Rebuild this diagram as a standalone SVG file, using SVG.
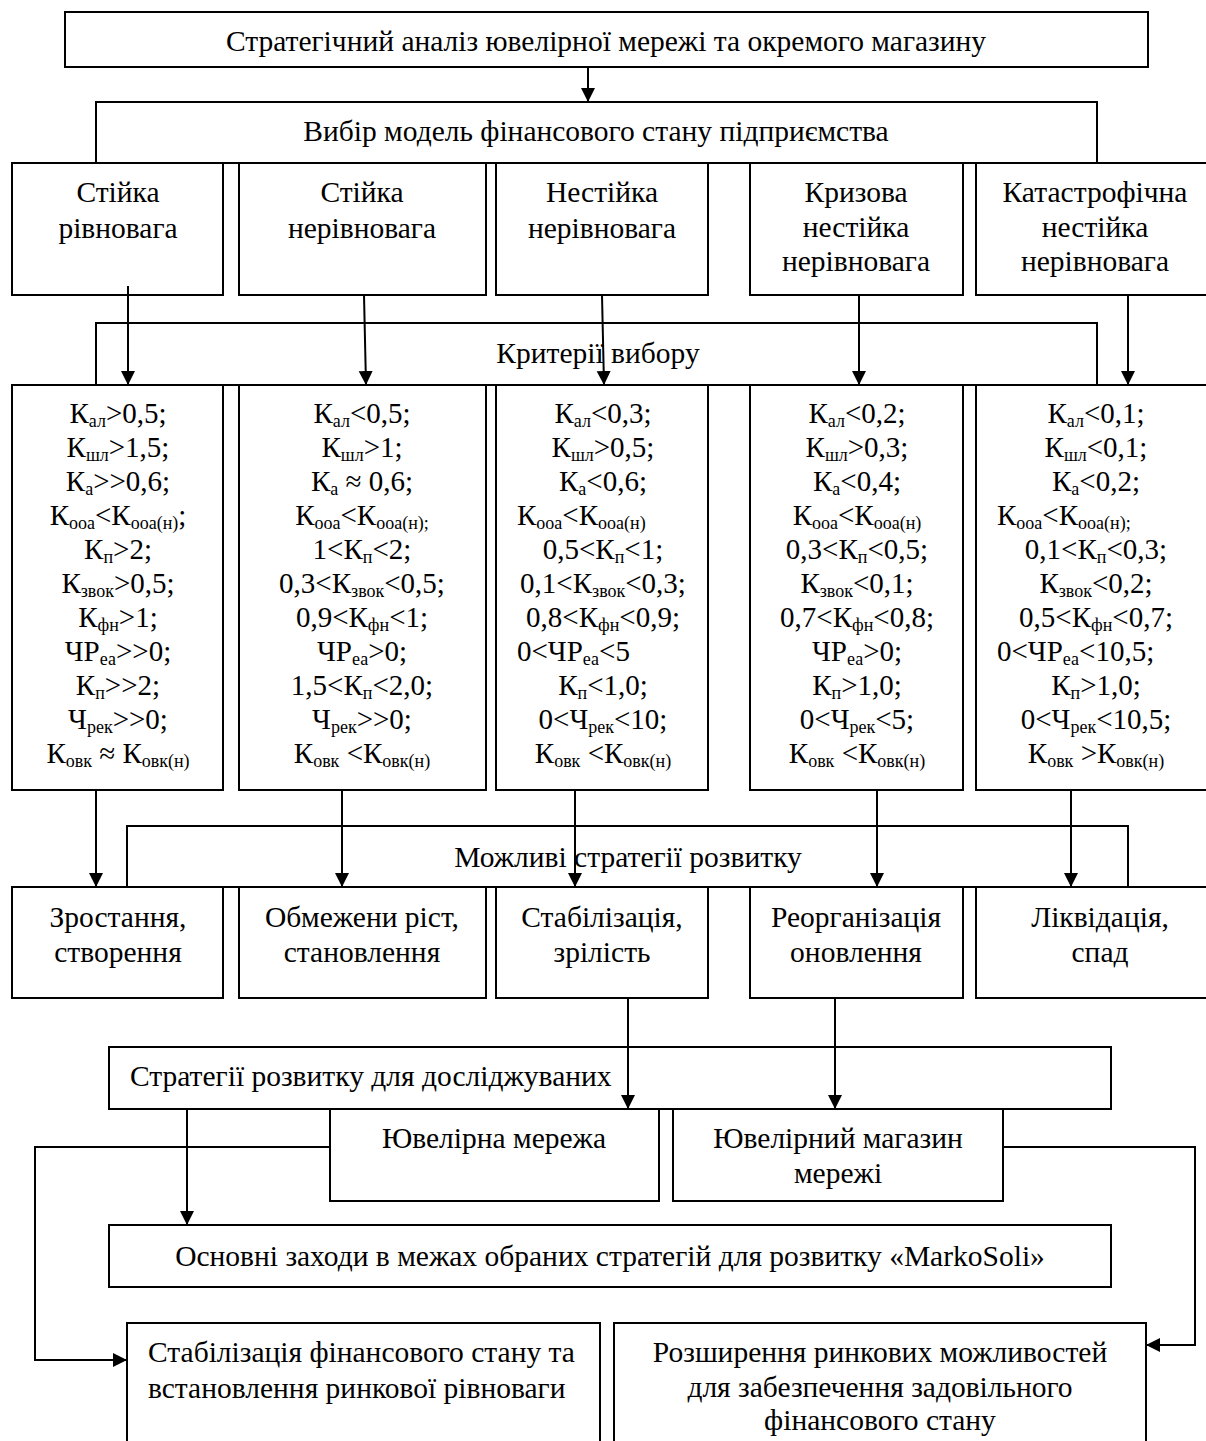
<svg xmlns="http://www.w3.org/2000/svg" width="1206" height="1441" viewBox="0 0 1206 1441">
<defs>
<marker id="ah" markerUnits="userSpaceOnUse" markerWidth="14" markerHeight="16" refX="14" refY="7" orient="auto">
<path d="M0,0 L14,7 L0,14 Z" fill="#000"/>
</marker>
<style>
rect{fill:#fff;stroke:#000;stroke-width:2}
text{font-family:"Liberation Serif","Times New Roman",serif;font-size:29.5px;fill:#000}
.m{text-anchor:middle}
.k text{font-size:29px}
.k .s{font-size:18px}
.ar{fill:none;stroke:#000;stroke-width:2;marker-end:url(#ah)}
</style>
</defs>
<rect width="1206" height="1441" style="stroke:none"/>

<g id="n-top"><rect x="65" y="12" width="1083" height="55"/><text class="m" x="606" y="51">Стратегічний аналіз ювелірної мережі та окремого магазину</text></g>
<g id="n-model"><rect x="96" y="102" width="1001" height="61"/><text class="m" x="596" y="141">Вибір модель фінансового стану підприємства</text></g>

<g id="n-s1"><rect x="12" y="163" width="211" height="132"/><text class="m" x="118" y="202">Стійка</text><text class="m" x="118" y="238">рівновага</text></g>
<g id="n-s2"><rect x="239" y="163" width="247" height="132"/><text class="m" x="362" y="202">Стійка</text><text class="m" x="362" y="238">нерівновага</text></g>
<g id="n-s3"><rect x="496" y="163" width="212" height="132"/><text class="m" x="602" y="202">Нестійка</text><text class="m" x="602" y="238">нерівновага</text></g>
<g id="n-s4"><rect x="750" y="163" width="213" height="132"/><text class="m" x="856" y="202">Кризова</text><text class="m" x="856" y="237">нестійка</text><text class="m" x="856" y="271">нерівновага</text></g>
<g id="n-s5"><rect x="976" y="163" width="240" height="132"/><text class="m" x="1095" y="202">Катастрофічна</text><text class="m" x="1095" y="237">нестійка</text><text class="m" x="1095" y="271">нерівновага</text></g>

<g id="n-crit"><rect x="96" y="323" width="1001" height="62"/><text class="m" x="598" y="363">Критерії вибору</text></g>

<g id="n-c1" class="k"><rect x="12" y="385" width="211" height="405"/>
<text class="m" x="118" y="423">К<tspan class="s" dy="4">ал</tspan><tspan dy="-4">&gt;0,5;</tspan></text>
<text class="m" x="118" y="457">К<tspan class="s" dy="4">шл</tspan><tspan dy="-4">&gt;1,5;</tspan></text>
<text class="m" x="118" y="491">К<tspan class="s" dy="4">а</tspan><tspan dy="-4">&gt;&gt;0,6;</tspan></text>
<text class="m" x="118" y="525">К<tspan class="s" dy="4">ооа</tspan><tspan dy="-4">&lt;К</tspan><tspan class="s" dy="4">ооа(н)</tspan><tspan dy="-4">;</tspan></text>
<text class="m" x="118" y="559">К<tspan class="s" dy="4">п</tspan><tspan dy="-4">&gt;2;</tspan></text>
<text class="m" x="118" y="593">К<tspan class="s" dy="4">звок</tspan><tspan dy="-4">&gt;0,5;</tspan></text>
<text class="m" x="118" y="627">К<tspan class="s" dy="4">фн</tspan><tspan dy="-4">&gt;1;</tspan></text>
<text class="m" x="118" y="661">ЧР<tspan class="s" dy="4">еа</tspan><tspan dy="-4">&gt;&gt;0;</tspan></text>
<text class="m" x="118" y="695">К<tspan class="s" dy="4">п</tspan><tspan dy="-4">&gt;&gt;2;</tspan></text>
<text class="m" x="118" y="729">Ч<tspan class="s" dy="4">рек</tspan><tspan dy="-4">&gt;&gt;0;</tspan></text>
<text class="m" x="118" y="763">К<tspan class="s" dy="4">овк</tspan><tspan dy="-4"> ≈ К</tspan><tspan class="s" dy="4">овк(н)</tspan></text>
</g>

<g id="n-c2" class="k"><rect x="239" y="385" width="247" height="405"/>
<text class="m" x="362" y="423">К<tspan class="s" dy="4">ал</tspan><tspan dy="-4">&lt;0,5;</tspan></text>
<text class="m" x="362" y="457">К<tspan class="s" dy="4">шл</tspan><tspan dy="-4">&gt;1;</tspan></text>
<text class="m" x="362" y="491">К<tspan class="s" dy="4">а</tspan><tspan dy="-4"> ≈ 0,6;</tspan></text>
<text class="m" x="362" y="525">К<tspan class="s" dy="4">ооа</tspan><tspan dy="-4">&lt;К</tspan><tspan class="s" dy="4">ооа(н);</tspan></text>
<text class="m" x="362" y="559">1&lt;К<tspan class="s" dy="4">п</tspan><tspan dy="-4">&lt;2;</tspan></text>
<text class="m" x="362" y="593">0,3&lt;К<tspan class="s" dy="4">звок</tspan><tspan dy="-4">&lt;0,5;</tspan></text>
<text class="m" x="362" y="627">0,9&lt;К<tspan class="s" dy="4">фн</tspan><tspan dy="-4">&lt;1;</tspan></text>
<text class="m" x="362" y="661">ЧР<tspan class="s" dy="4">еа</tspan><tspan dy="-4">&gt;0;</tspan></text>
<text class="m" x="362" y="695">1,5&lt;К<tspan class="s" dy="4">п</tspan><tspan dy="-4">&lt;2,0;</tspan></text>
<text class="m" x="362" y="729">Ч<tspan class="s" dy="4">рек</tspan><tspan dy="-4">&gt;&gt;0;</tspan></text>
<text class="m" x="362" y="763">К<tspan class="s" dy="4">овк</tspan><tspan dy="-4"> &lt;К</tspan><tspan class="s" dy="4">овк(н)</tspan></text>
</g>

<g id="n-c3" class="k"><rect x="496" y="385" width="212" height="405"/>
<text class="m" x="603" y="423">К<tspan class="s" dy="4">ал</tspan><tspan dy="-4">&lt;0,3;</tspan></text>
<text class="m" x="603" y="457">К<tspan class="s" dy="4">шл</tspan><tspan dy="-4">&gt;0,5;</tspan></text>
<text class="m" x="603" y="491">К<tspan class="s" dy="4">а</tspan><tspan dy="-4">&lt;0,6;</tspan></text>
<text x="517" y="525">К<tspan class="s" dy="4">ооа</tspan><tspan dy="-4">&lt;К</tspan><tspan class="s" dy="4">ооа(н)</tspan></text>
<text class="m" x="603" y="559">0,5&lt;К<tspan class="s" dy="4">п</tspan><tspan dy="-4">&lt;1;</tspan></text>
<text class="m" x="603" y="593">0,1&lt;К<tspan class="s" dy="4">звок</tspan><tspan dy="-4">&lt;0,3;</tspan></text>
<text class="m" x="603" y="627">0,8&lt;К<tspan class="s" dy="4">фн</tspan><tspan dy="-4">&lt;0,9;</tspan></text>
<text x="517" y="661">0&lt;ЧР<tspan class="s" dy="4">еа</tspan><tspan dy="-4">&lt;5</tspan></text>
<text class="m" x="603" y="695">К<tspan class="s" dy="4">п</tspan><tspan dy="-4">&lt;1,0;</tspan></text>
<text class="m" x="603" y="729">0&lt;Ч<tspan class="s" dy="4">рек</tspan><tspan dy="-4">&lt;10;</tspan></text>
<text class="m" x="603" y="763">К<tspan class="s" dy="4">овк</tspan><tspan dy="-4"> &lt;К</tspan><tspan class="s" dy="4">овк(н)</tspan></text>
</g>

<g id="n-c4" class="k"><rect x="750" y="385" width="213" height="405"/>
<text class="m" x="857" y="423">К<tspan class="s" dy="4">ал</tspan><tspan dy="-4">&lt;0,2;</tspan></text>
<text class="m" x="857" y="457">К<tspan class="s" dy="4">шл</tspan><tspan dy="-4">&gt;0,3;</tspan></text>
<text class="m" x="857" y="491">К<tspan class="s" dy="4">а</tspan><tspan dy="-4">&lt;0,4;</tspan></text>
<text class="m" x="857" y="525">К<tspan class="s" dy="4">ооа</tspan><tspan dy="-4">&lt;К</tspan><tspan class="s" dy="4">ооа(н)</tspan></text>
<text class="m" x="857" y="559">0,3&lt;К<tspan class="s" dy="4">п</tspan><tspan dy="-4">&lt;0,5;</tspan></text>
<text class="m" x="857" y="593">К<tspan class="s" dy="4">звок</tspan><tspan dy="-4">&lt;0,1;</tspan></text>
<text class="m" x="857" y="627">0,7&lt;К<tspan class="s" dy="4">фн</tspan><tspan dy="-4">&lt;0,8;</tspan></text>
<text class="m" x="857" y="661">ЧР<tspan class="s" dy="4">еа</tspan><tspan dy="-4">&gt;0;</tspan></text>
<text class="m" x="857" y="695">К<tspan class="s" dy="4">п</tspan><tspan dy="-4">&gt;1,0;</tspan></text>
<text class="m" x="857" y="729">0&lt;Ч<tspan class="s" dy="4">рек</tspan><tspan dy="-4">&lt;5;</tspan></text>
<text class="m" x="857" y="763">К<tspan class="s" dy="4">овк</tspan><tspan dy="-4"> &lt;К</tspan><tspan class="s" dy="4">овк(н)</tspan></text>
</g>

<g id="n-c5" class="k"><rect x="976" y="385" width="240" height="405"/>
<text class="m" x="1096" y="423">К<tspan class="s" dy="4">ал</tspan><tspan dy="-4">&lt;0,1;</tspan></text>
<text class="m" x="1096" y="457">К<tspan class="s" dy="4">шл</tspan><tspan dy="-4">&lt;0,1;</tspan></text>
<text class="m" x="1096" y="491">К<tspan class="s" dy="4">а</tspan><tspan dy="-4">&lt;0,2;</tspan></text>
<text x="997" y="525">К<tspan class="s" dy="4">ооа</tspan><tspan dy="-4">&lt;К</tspan><tspan class="s" dy="4">ооа(н);</tspan></text>
<text class="m" x="1096" y="559">0,1&lt;К<tspan class="s" dy="4">п</tspan><tspan dy="-4">&lt;0,3;</tspan></text>
<text class="m" x="1096" y="593">К<tspan class="s" dy="4">звок</tspan><tspan dy="-4">&lt;0,2;</tspan></text>
<text class="m" x="1096" y="627">0,5&lt;К<tspan class="s" dy="4">фн</tspan><tspan dy="-4">&lt;0,7;</tspan></text>
<text x="997" y="661">0&lt;ЧР<tspan class="s" dy="4">еа</tspan><tspan dy="-4">&lt;10,5;</tspan></text>
<text class="m" x="1096" y="695">К<tspan class="s" dy="4">п</tspan><tspan dy="-4">&gt;1,0;</tspan></text>
<text class="m" x="1096" y="729">0&lt;Ч<tspan class="s" dy="4">рек</tspan><tspan dy="-4">&lt;10,5;</tspan></text>
<text class="m" x="1096" y="763">К<tspan class="s" dy="4">овк</tspan><tspan dy="-4"> &gt;К</tspan><tspan class="s" dy="4">овк(н)</tspan></text>
</g>

<g id="n-strat"><rect x="127" y="826" width="1001" height="61"/><text class="m" x="628" y="867">Можливі стратегії розвитку</text></g>

<g id="n-r1"><rect x="12" y="887" width="211" height="111"/><text class="m" x="118" y="927">Зростання,</text><text class="m" x="118" y="962">створення</text></g>
<g id="n-r2"><rect x="239" y="887" width="247" height="111"/><text class="m" x="362" y="927">Обмежени ріст,</text><text class="m" x="362" y="962">становлення</text></g>
<g id="n-r3"><rect x="496" y="887" width="212" height="111"/><text class="m" x="602" y="927">Стабілізація,</text><text class="m" x="602" y="962">зрілість</text></g>
<g id="n-r4"><rect x="750" y="887" width="213" height="111"/><text class="m" x="856" y="927">Реорганізація</text><text class="m" x="856" y="962">оновлення</text></g>
<g id="n-r5"><rect x="976" y="887" width="240" height="111"/><text class="m" x="1100" y="927">Ліквідація,</text><text class="m" x="1100" y="962">спад</text></g>

<g id="n-dev"><rect x="109" y="1047" width="1002" height="62"/><text x="130" y="1086">Стратегії розвитку для досліджуваних</text></g>
<g id="n-net"><rect x="330" y="1109" width="329" height="92"/><text class="m" x="494" y="1148">Ювелірна мережа</text></g>
<g id="n-shop"><rect x="673" y="1109" width="330" height="92"/><text class="m" x="838" y="1148">Ювелірний магазин</text><text class="m" x="838" y="1183">мережі</text></g>
<g id="n-main"><rect x="109" y="1225" width="1002" height="62"/><text class="m" x="610" y="1266">Основні заходи в межах обраних стратегій для розвитку «MarkoSoli»</text></g>
<g id="n-stab"><rect x="127" y="1323" width="473" height="140"/><text x="148" y="1362">Стабілізація фінансового стану та</text><text x="148" y="1398">встановлення ринкової рівноваги</text></g>
<g id="n-exp"><rect x="614" y="1323" width="532" height="140"/><text class="m" x="880" y="1362">Розширення ринкових можливостей</text><text class="m" x="880" y="1397">для забезпечення задовільного</text><text class="m" x="880" y="1430">фінансового стану</text></g>

<g id="connectors">
<line class="ar" x1="588" y1="67" x2="588" y2="102"/>
<line class="ar" x1="128" y1="286" x2="128" y2="385"/>
<line class="ar" x1="364" y1="295" x2="366" y2="385"/>
<line class="ar" x1="602" y1="295" x2="604" y2="385"/>
<line class="ar" x1="859" y1="295" x2="859" y2="385"/>
<line class="ar" x1="1128" y1="295" x2="1128" y2="385"/>
<line class="ar" x1="96" y1="790" x2="96" y2="887"/>
<line class="ar" x1="342" y1="790" x2="342" y2="887"/>
<line class="ar" x1="575" y1="790" x2="575" y2="887"/>
<line class="ar" x1="877" y1="790" x2="877" y2="887"/>
<line class="ar" x1="1071" y1="790" x2="1071" y2="887"/>
<line class="ar" x1="628" y1="998" x2="628" y2="1109"/>
<line class="ar" x1="835" y1="998" x2="835" y2="1109"/>
<line class="ar" x1="187" y1="1109" x2="187" y2="1225"/>
<polyline class="ar" points="330,1147 35,1147 35,1360 127,1360"/>
<polyline class="ar" points="1003,1147 1195,1147 1195,1345 1146,1345"/>
</g>
</svg>
